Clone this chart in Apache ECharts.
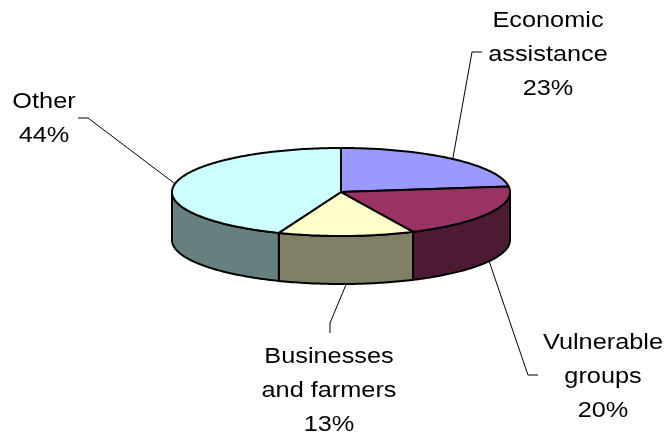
<!DOCTYPE html>
<html>
<head>
<meta charset="utf-8">
<script src="https://cdn.jsdelivr.net/npm/echarts@6/dist/echarts.min.js"></script>
<style>
  html, body { margin: 0; padding: 0; background: #ffffff; }
  #chart { width: 668px; height: 440px; }
</style>
</head>
<body>
<div id="chart"></div>
<script>
// Slice names, shares (percent) and the text shown beside each slice
const categories = ['Economic assistance', 'Vulnerable groups', 'Businesses and farmers', 'Other'];
const shares = [23, 20, 13, 44];
const labelNames = ['Economic\nassistance', 'Vulnerable\ngroups', 'Businesses\nand farmers', 'Other'];

// Face colours: top of each slice and its darker rim
const topColors = ['#9999FF', '#993366', '#FFFFCC', '#CCFFFF'];
const sideColors = ['#4D4D80', '#4D1A33', '#808066', '#668080'];

// Disc geometry (pixels)
const disc = { cx: 341, cy: 192, rx: 169, ry: 44, depth: 48 };

// Label placement: text block centre, leader elbow and leader end
const labelLayout = [
  { tx: 548, ty: 55,  elbow: [472, 52],  end: [482, 52] },
  { tx: 603, ty: 377, elbow: [528, 375], end: [538, 375] },
  { tx: 329, ty: 391, elbow: [330, 323], end: [330, 333] },
  { tx: 44,  ty: 119, elbow: [88, 118],  end: [78, 118] }
];

const total = shares.reduce((a, b) => a + b, 0);

// Point on the rim; angle in degrees, clockwise from 12 o'clock
function rim(deg, drop) {
  const r = deg * Math.PI / 180;
  return [disc.cx + disc.rx * Math.sin(r), disc.cy - disc.ry * Math.cos(r) + (drop || 0)];
}

function arc(a, b, drop) {
  const pts = [];
  const n = Math.max(2, Math.ceil(Math.abs(b - a)));
  for (let k = 0; k <= n; k++) pts.push(rim(a + (b - a) * k / n, drop));
  return pts;
}

function renderSlice(params, api) {
  const i = params.dataIndex;
  const value = api.value(0);
  let before = 0;
  for (let k = 0; k < i; k++) before += shares[k];
  const a = before / total * 360;
  const b = (before + value) / total * 360;
  const children = [];

  // Visible rim: the front half of the disc, 90..270 degrees
  const s = Math.max(a, 90), e = Math.min(b, 270);
  if (s < e) {
    const side = arc(s, e, 0).concat(arc(e, s, disc.depth));
    children.push({
      type: 'polygon', z2: 1,
      shape: { points: side },
      style: { fill: sideColors[i], stroke: '#000', lineWidth: 2, lineJoin: 'round' }
    });
  }

  // Top face
  const top = [[disc.cx, disc.cy]].concat(arc(a, b, 0));
  children.push({
    type: 'polygon', z2: 2,
    shape: { points: top },
    style: { fill: topColors[i], stroke: '#000', lineWidth: 2, lineJoin: 'round' }
  });

  // Leader line from the slice's middle on the outer edge
  const mid = (a + b) / 2;
  const front = mid > 90 && mid < 270;
  const start = rim(mid, front ? disc.depth : 0);
  const lay = labelLayout[i];
  children.push({
    type: 'polyline', z2: 0,
    shape: { points: [start, lay.elbow, lay.end] },
    style: { stroke: '#000', lineWidth: 1, fill: null }
  });

  // Label: name and rounded percentage
  const pct = Math.round(value / total * 100) + '%';
  children.push({
    type: 'text', z2: 3,
    x: lay.tx, y: lay.ty, scaleX: 1.15,
    style: {
      text: labelNames[i] + '\n' + pct,
      fontFamily: 'Liberation Sans, Arial, sans-serif',
      fontSize: 22, lineHeight: 34,
      fill: '#000', align: 'center', verticalAlign: 'middle'
    }
  });

  return { type: 'group', children: children };
}

const chart = echarts.init(document.getElementById('chart'), null, { renderer: 'canvas' });
chart.setOption({
  animation: false,
  backgroundColor: '#ffffff',
  series: [{
    type: 'custom',
    coordinateSystem: 'none',
    renderItem: renderSlice,
    data: shares.map((v, i) => ({ name: categories[i], value: [v] }))
  }]
});
</script>
</body>
</html>
